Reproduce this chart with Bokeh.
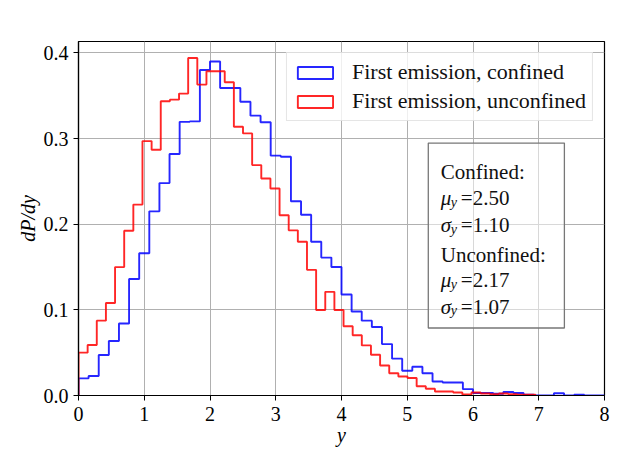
import numpy as np
from bokeh.plotting import figure
from bokeh.models import (Range1d, FixedTicker, PrintfTickFormatter, Legend, LegendItem,
                          BoxAnnotation, Label, ColumnDataSource)
from bokeh.embed import file_html
from bokeh.resources import INLINE

# ---------------- data ----------------
confined_range = (0.0, 8.0)
confined_bins = 52
confined_density = [0.020, 0.0227, 0.0473, 0.0637, 0.084, 0.136, 0.166, 0.215, 0.248, 0.282,
                    0.3195, 0.320, 0.380, 0.390, 0.359, 0.359, 0.343, 0.3267, 0.319, 0.280,
                    0.2787, 0.2268, 0.211, 0.1795, 0.161, 0.150, 0.118, 0.098, 0.0874, 0.080,
                    0.060, 0.043, 0.0289, 0.0336, 0.026, 0.0164, 0.0152, 0.0152, 0.0074, 0.003,
                    0.003, 0.002, 0.004, 0.003, 0.001, 0.0, 0.0, 0.0026, 0.0, 0.001,
                    0.0, 0.0]

unconfined_range = (0.0, 6.95)
unconfined_bins = 50
unconfined_density = [0.050, 0.0589, 0.0874, 0.108, 0.1499, 0.1924, 0.2229, 0.297, 0.287, 0.3435,
                      0.3454, 0.3525, 0.394, 0.363, 0.3786, 0.3786, 0.3657, 0.3138, 0.306, 0.269,
                      0.2533, 0.2416, 0.2104, 0.1928, 0.1795, 0.1467, 0.0999, 0.121, 0.0999, 0.0808,
                      0.0703, 0.0585, 0.0476, 0.0351, 0.026, 0.0222, 0.0205, 0.0108, 0.0078, 0.0047,
                      0.0047, 0.0035, 0.0012, 0.0035, 0.0023, 0.0016, 0.0023, 0.0016, 0.0008, 0.0008]

series_labels = ["First emission, confined", "First emission, unconfined"]
stats_lines = [("Confined:", None), ("μ", "=2.50"), ("σ", "=1.10"),
               ("Unconfined:", None), ("μ", "=2.17"), ("σ", "=1.07")]
x_ticks = [0, 1, 2, 3, 4, 5, 6, 7, 8]
y_ticks = [0.0, 0.1, 0.2, 0.3, 0.4]

FONT = "Liberation Serif"
FS = "20px"


def step_path(rng, nbins, vals):
    edges = np.linspace(rng[0], rng[1], nbins + 1)
    v = np.asarray(vals, dtype=float)
    xs = np.concatenate([[edges[0]], np.repeat(edges, 2)[1:-1], [edges[-1]]])
    ys = np.concatenate([[0.0], np.repeat(v, 2), [0.0]])
    return xs, ys


p = figure(width=622, height=466, output_backend="svg", toolbar_location=None,
           x_range=Range1d(0, 8), y_range=Range1d(0, 0.4133),
           min_border_left=78, min_border_right=18, min_border_top=41, min_border_bottom=71)

p.background_fill_color = "white"
p.border_fill_color = "white"
p.outline_line_color = "black"
p.outline_line_width = 1.2

for ax in (p.xaxis, p.yaxis):
    ax.axis_line_color = "black"
    ax.axis_line_width = 1.2
    ax.major_tick_line_color = "black"
    ax.major_tick_out = 5
    ax.major_tick_in = 0
    ax.minor_tick_line_color = None
    ax.major_label_text_font = FONT
    ax.major_label_text_font_size = FS
    ax.major_label_text_color = "black"
    ax.axis_label_text_font = FONT
    ax.axis_label_text_font_size = FS
    ax.axis_label_text_color = "black"
    ax.axis_label_text_font_style = "italic"

p.xaxis.ticker = FixedTicker(ticks=x_ticks)
p.yaxis.ticker = FixedTicker(ticks=y_ticks)
p.yaxis.formatter = PrintfTickFormatter(format="%.1f")
p.xaxis.axis_label = "y"
p.yaxis.axis_label = "dP/dy"
p.xaxis.major_label_standoff = 6
p.xaxis.axis_label_standoff = 0
p.yaxis.major_label_standoff = 5
p.yaxis.axis_label_standoff = 2

p.xgrid.grid_line_color = "#b0b0b0"
p.ygrid.grid_line_color = "#b0b0b0"
p.xgrid.grid_line_width = 1
p.ygrid.grid_line_width = 1

bx, by = step_path(confined_range, confined_bins, confined_density)
rx, ry = step_path(unconfined_range, unconfined_bins, unconfined_density)

p.line(bx, by, line_color="#0000ff", line_width=1.9, line_alpha=0.85)
p.line(rx, ry, line_color="#ff0000", line_width=1.9, line_alpha=0.85)

# legend handles: quads with no drawable extent, shown only as patches in the legend
nan = float("nan")
handle_src = ColumnDataSource(data=dict(l=[nan], r=[nan], t=[nan], b=[nan]))
hb = p.quad(left="l", right="r", top="t", bottom="b", source=handle_src,
            fill_alpha=0, line_color="#0000ff", line_width=1.9, line_alpha=0.85)
hr = p.quad(left="l", right="r", top="t", bottom="b", source=handle_src,
            fill_alpha=0, line_color="#ff0000", line_width=1.9, line_alpha=0.85)

legend = Legend(items=[LegendItem(label=series_labels[0], renderers=[hb], index=0),
                       LegendItem(label=series_labels[1], renderers=[hr], index=0)],
                location="top_right", margin=11)
legend.label_text_font = FONT
legend.label_text_font_size = "22px"
legend.label_text_color = "#111111"
legend.glyph_width = 44
legend.glyph_height = 15
legend.label_standoff = 15
legend.padding = 6
legend.spacing = 3
legend.border_line_color = "#cccccc"
legend.border_line_width = 1
legend.background_fill_color = "white"
legend.background_fill_alpha = 0.8
p.add_layout(legend)

# statistics box
box = BoxAnnotation(left=5.32, right=7.39, bottom=0.0788, top=0.2947,
                    fill_color="white", fill_alpha=0.5,
                    line_color="#777777", line_alpha=1.0, line_width=1.3, level="overlay")
p.add_layout(box)

baselines = [0.2611, 0.2303, 0.1987, 0.1636, 0.1347, 0.1034]
tx = 5.51
for (sym, rest), yb in zip(stats_lines, baselines):
    if rest is None:
        p.add_layout(Label(x=tx, y=yb, text=sym, text_font=FONT, text_font_size="21px",
                           text_baseline="alphabetic", text_color="#111111", level="overlay"))
    else:
        p.add_layout(Label(x=tx, y=yb, text=sym, text_font=FONT, text_font_size="21px",
                           text_font_style="italic", text_baseline="alphabetic",
                           text_color="#111111", level="overlay"))
        p.add_layout(Label(x=tx, y=yb, x_offset=10, y_offset=-4, text="y", text_font=FONT,
                           text_font_size="14px", text_font_style="italic",
                           text_baseline="alphabetic", text_color="#111111", level="overlay"))
        p.add_layout(Label(x=tx, y=yb, x_offset=20, text=rest, text_font=FONT,
                           text_font_size="21px", text_baseline="alphabetic",
                           text_color="#111111", level="overlay"))

open("out.html", "w").write(file_html(p, INLINE))
